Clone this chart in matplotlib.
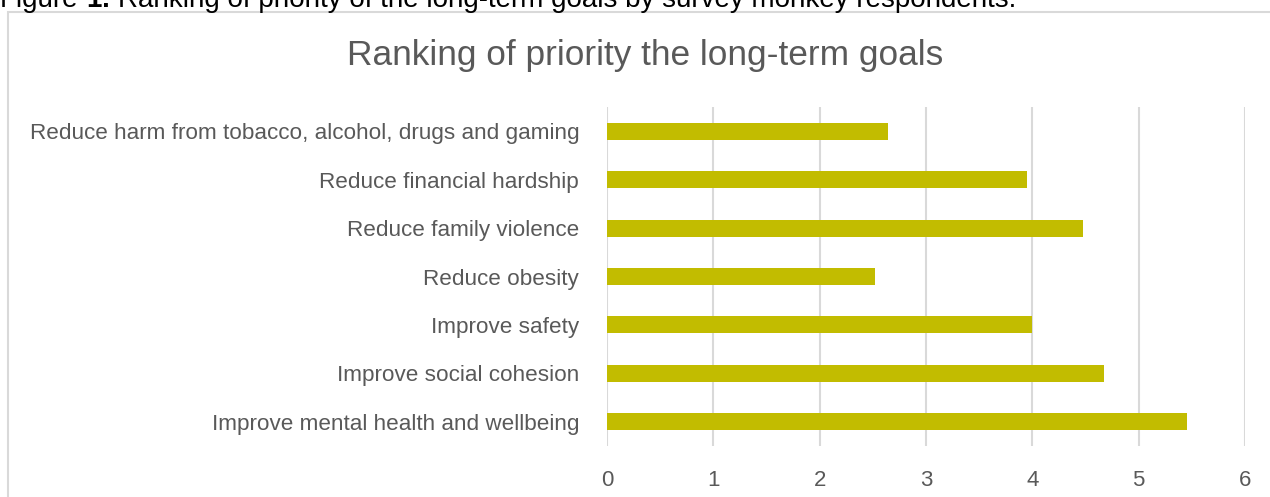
import matplotlib
matplotlib.use("Agg")
import matplotlib.pyplot as plt
from matplotlib.patches import Rectangle

categories = [
    "Reduce harm from tobacco, alcohol, drugs and gaming",
    "Reduce financial hardship",
    "Reduce family violence",
    "Reduce obesity",
    "Improve safety",
    "Improve social cohesion",
    "Improve mental health and wellbeing",
]
scores = [2.64, 3.95, 4.48, 2.52, 4.00, 4.67, 5.45]
x_ticks = [0, 1, 2, 3, 4, 5, 6]

caption_parts = [
    ("Figure", "normal"),
    ("1:", "bold"),
    ("Ranking of priority of the long-term goals by survey monkey respondents.", "normal"),
]

W, H = 1270, 497
fig = plt.figure(figsize=(W / 100, H / 100), dpi=100)
fam = ["Liberation Sans", "DejaVu Sans"]
grey = "#595959"

# outer chart frame
fig.patches.append(Rectangle((8 / W, -0.1), 1.2, 1 - 12 / H + 0.1, transform=fig.transFigure,
                             fill=False, edgecolor="#D9D9D9", linewidth=1.5))

# caption above the frame, set piece by piece so "1:" can be bold
renderer = fig.canvas.get_renderer()
x = 0.0
cap_size = 20.0
space = cap_size * 100 / 72 * 0.278
for txt, weight in caption_parts:
    t = fig.text(x / W, 1 - 7 / H, txt, fontsize=cap_size, family=fam, fontweight=weight,
                 color="black", va="baseline", ha="left")
    bb = t.get_window_extent(renderer=renderer)
    x = bb.x1 + space

ax = fig.add_axes([607 / W, 1 - 446 / H, (1245 - 607) / W, (446 - 107) / H])
pos = list(range(len(categories)))[::-1]
ax.barh(pos, scores, height=0.35, color="#C2BC00", zorder=3)
ax.set_xlim(0, 6)
ax.set_ylim(-0.5, len(categories) - 0.5)
ax.set_xticks(x_ticks)
ax.set_xticklabels([str(t) for t in x_ticks], family=fam, fontsize=16, color=grey)
ax.set_yticks(pos)
ax.set_yticklabels(categories, family=fam, fontsize=16.2, color=grey)
ax.tick_params(axis="both", length=0)
ax.tick_params(axis="x", pad=17)
ax.tick_params(axis="y", pad=20)
ax.grid(axis="x", color="#D9D9D9", linewidth=1.5, zorder=0)
for s in ax.spines.values():
    s.set_visible(False)

fig.text(645 / W, 1 - 55 / H, "Ranking of priority the long-term goals", family=fam,
         fontsize=25.4, color=grey, ha="center", va="center")

fig.savefig("out.png", dpi=100)
